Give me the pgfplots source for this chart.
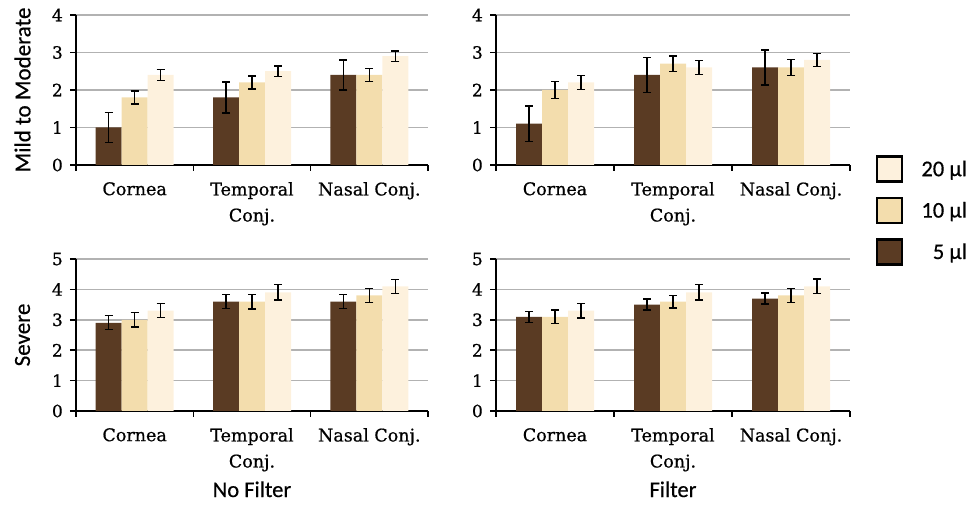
\documentclass[border=0pt]{standalone}
\usepackage{fontspec}
\setmainfont{DejaVu Serif}[FakeBold=0.7]
\newfontfamily\carlito{Carlito}[FakeBold=0.5]
\usepackage{pgfplots}
\pgfplotsset{compat=1.18}

\definecolor{fivemu}{HTML}{5A3B23}
\definecolor{tenmu}{HTML}{F3DDAD}
\definecolor{twentymu}{HTML}{FDF1DD}
\definecolor{gridc}{HTML}{B2B2B2}

\pgfplotsset{
  panel/.style={
    scale only axis,
    width=352pt,
    xmin=0, xmax=3, ymin=0,
    enlargelimits=false,
    axis x line=bottom, axis y line=left,
    axis line style={-, line width=1.6pt, black},
    ybar=0pt, bar width=26pt,
    xtick={0.5,1.5,2.5},
    xticklabels={Cornea, {Temporal\\Conj.}, {Nasal Conj.}},
    major x tick style={draw=none},
    minor xtick={0,1,2,3},
    minor x tick style={line width=1.6pt, black},
    major y tick style={line width=1.6pt, black},
    tick align=outside,
    major tick length=6pt, minor tick length=6pt,
    ymajorgrids,
    grid style={gridc, line width=1.4pt},
    /pgf/number format/assume math mode=true,
    yticklabel style={font=\fontsize{17}{17}\selectfont, inner sep=0pt, xshift=-7pt},
    xticklabel style={font=\fontsize{17.5}{26}\selectfont, align=center, inner sep=0pt, yshift=-11pt},
    ylabel style={font=\carlito\fontsize{23}{23}\selectfont, at={(axis description cs:-0.152,0.5)}, anchor=center},
    xlabel style={font=\carlito\fontsize{22.5}{22.5}\selectfont, at={(axis description cs:0.5,-0.566)}, anchor=base},
  },
  ebar/.style={
    error bars/.cd, y dir=both, y explicit,
    error bar style={draw=black, line width=1.3pt},
    error mark options={rotate=90, draw=black, mark size=4pt, line width=1.3pt},
  },
}

\begin{document}
\begin{tikzpicture}
\useasboundingbox (0pt,0pt) rectangle (971pt,505pt);

% top left: no filter, mild to moderate
\begin{axis}[panel, at={(76pt,340pt)}, anchor=south west, height=150pt,
  ymax=4, ytick={0,1,2,3,4}, ylabel={Mild to Moderate}]
\addplot[fill=fivemu, draw=none, ebar] coordinates {(0.5,1.0) +- (0,0.40) (1.5,1.8) +- (0,0.41) (2.5,2.4) +- (0,0.40)};
\addplot[fill=tenmu, draw=none, ebar] coordinates {(0.5,1.8) +- (0,0.17) (1.5,2.2) +- (0,0.17) (2.5,2.4) +- (0,0.17)};
\addplot[fill=twentymu, draw=none, ebar] coordinates {(0.5,2.4) +- (0,0.14) (1.5,2.5) +- (0,0.14) (2.5,2.9) +- (0,0.14)};
\end{axis}

% top right: filter, mild to moderate
\begin{axis}[panel, at={(496pt,340pt)}, anchor=south west, height=150pt, width=354pt,
  ymax=4, ytick={0,1,2,3,4},
  reverse legend,
  legend cell align=right,
  legend image code/.code={\draw[#1, draw=black, line width=2.4pt] (0pt,-12.5pt) rectangle (25pt,12.5pt);},
  legend style={at={(1.073,0.065)}, anchor=north west, draw=none, fill=none, inner sep=0pt,
    row sep=14pt, column sep=16pt, font=\carlito\fontsize{22.5}{22.5}\selectfont}]
\addplot[fill=fivemu, draw=none, ebar] coordinates {(0.5,1.1) +- (0,0.47) (1.5,2.4) +- (0,0.47) (2.5,2.6) +- (0,0.47)};
\addlegendentry{5 µl}
\addplot[fill=tenmu, draw=none, ebar] coordinates {(0.5,2.0) +- (0,0.22) (1.5,2.7) +- (0,0.21) (2.5,2.6) +- (0,0.22)};
\addlegendentry{10 µl}
\addplot[fill=twentymu, draw=none, ebar] coordinates {(0.5,2.2) +- (0,0.18) (1.5,2.6) +- (0,0.18) (2.5,2.8) +- (0,0.18)};
\addlegendentry{20 µl}
\end{axis}

% bottom left: no filter, severe
\begin{axis}[panel, at={(76pt,94pt)}, anchor=south west, height=152pt,
  ymax=5, ytick={0,1,2,3,4,5}, ylabel={Severe}, xlabel={No Filter}]
\addplot[fill=fivemu, draw=none, ebar] coordinates {(0.5,2.9) +- (0,0.23) (1.5,3.6) +- (0,0.23) (2.5,3.6) +- (0,0.23)};
\addplot[fill=tenmu, draw=none, ebar] coordinates {(0.5,3.0) +- (0,0.24) (1.5,3.6) +- (0,0.24) (2.5,3.8) +- (0,0.24)};
\addplot[fill=twentymu, draw=none, ebar] coordinates {(0.5,3.3) +- (0,0.23) (1.5,3.9) +- (0,0.25) (2.5,4.1) +- (0,0.23)};
\end{axis}

% bottom right: filter, severe
\begin{axis}[panel, at={(496pt,94pt)}, anchor=south west, height=152pt, width=354pt,
  ymax=5, ytick={0,1,2,3,4,5}, xlabel={Filter}]
\addplot[fill=fivemu, draw=none, ebar] coordinates {(0.5,3.1) +- (0,0.18) (1.5,3.5) +- (0,0.18) (2.5,3.7) +- (0,0.18)};
\addplot[fill=tenmu, draw=none, ebar] coordinates {(0.5,3.1) +- (0,0.22) (1.5,3.6) +- (0,0.21) (2.5,3.8) +- (0,0.22)};
\addplot[fill=twentymu, draw=none, ebar] coordinates {(0.5,3.3) +- (0,0.24) (1.5,3.9) +- (0,0.25) (2.5,4.1) +- (0,0.24)};
\end{axis}
\end{tikzpicture}
\end{document}
